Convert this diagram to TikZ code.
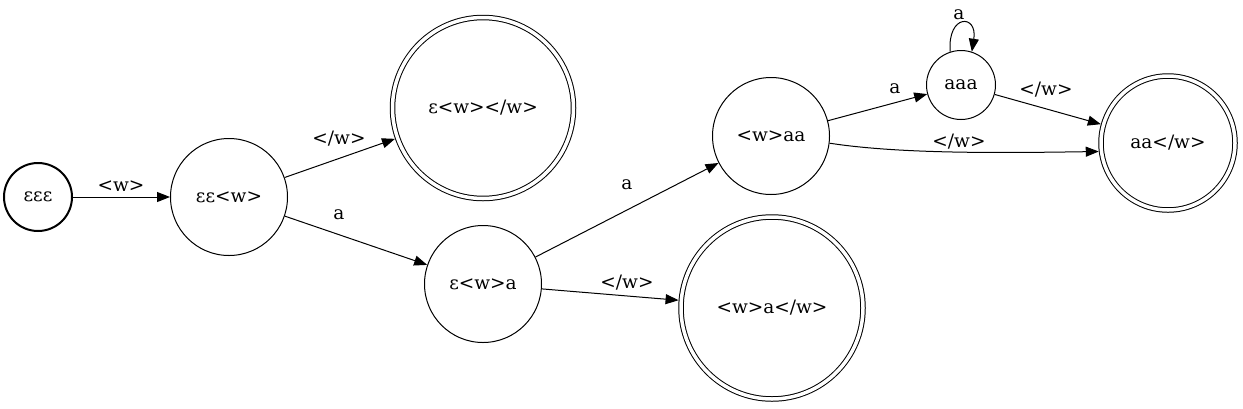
\documentclass[tikz,border=0pt]{standalone}
\usepackage{fontspec}
\setmainfont{DejaVu Serif}
\usetikzlibrary{arrows.meta}
\begin{document}
\begin{tikzpicture}[x=1pt,y=-1pt,
  every node/.style={font=\fontsize{18.5}{22}\selectfont},
  state/.style={circle,draw,line width=1pt,inner sep=0pt,outer sep=0.5pt,minimum size=117pt},
  accept/.style={circle,draw,line width=1pt,double,double distance=3.5pt,inner sep=0pt,outer sep=2.75pt},
  lbl/.style={inner sep=0pt},
  edge/.style={line width=1pt,-{Triangle[length=13pt,width=10pt]}}]
\useasboundingbox (0,0) rectangle (1243,408);
\node[state,minimum size=68pt,line width=2pt,outer sep=1pt] (e3) at (38,197) {εεε};
\node[state] (e2w) at (229,197) {εε<w>};
\node[accept,minimum size=181pt] (ewcw) at (483,108) {ε<w></w>};
\node[state] (ewa) at (483,284) {ε<w>a};
\node[state] (waa) at (771,136) {<w>aa};
\node[accept,minimum size=182pt] (wacw) at (772,308) {<w>a</w>};
\node[state,minimum size=69pt] (aaa) at (961,85) {aaa};
\node[accept,minimum size=134pt] (aacw) at (1168,143) {aa</w>};
\draw[edge] (e3) -- (e2w);
\draw[edge] (e2w) -- (ewcw);
\draw[edge] (e2w) -- (ewa);
\draw[edge] (ewa) -- (waa);
\draw[edge] (ewa) -- (wacw);
\draw[edge] (waa) -- (aaa);
\draw[edge] (aaa) -- (aacw);
\draw[edge] (waa.-7) .. controls (900,154) and (1000,153) .. (aacw.187);
\draw[edge] (aaa.108) .. controls +(-3,-38) and +(6,-38) .. (aaa.72);
\node[lbl] (l1) at (121,186) {<w>};
\node[lbl] (l2) at (339,139) {</w>};
\node[lbl] (l3) at (339,215) {a};
\node[lbl] (l4) at (627,185) {a};
\node[lbl] (l5) at (627,283) {</w>};
\node[lbl] (l6) at (895,89) {a};
\node[lbl] (l7) at (1046,90) {</w>};
\node[lbl] (l8) at (959,142) {</w>};
\node[lbl] (l9) at (959,15) {a};
\end{tikzpicture}
\end{document}
